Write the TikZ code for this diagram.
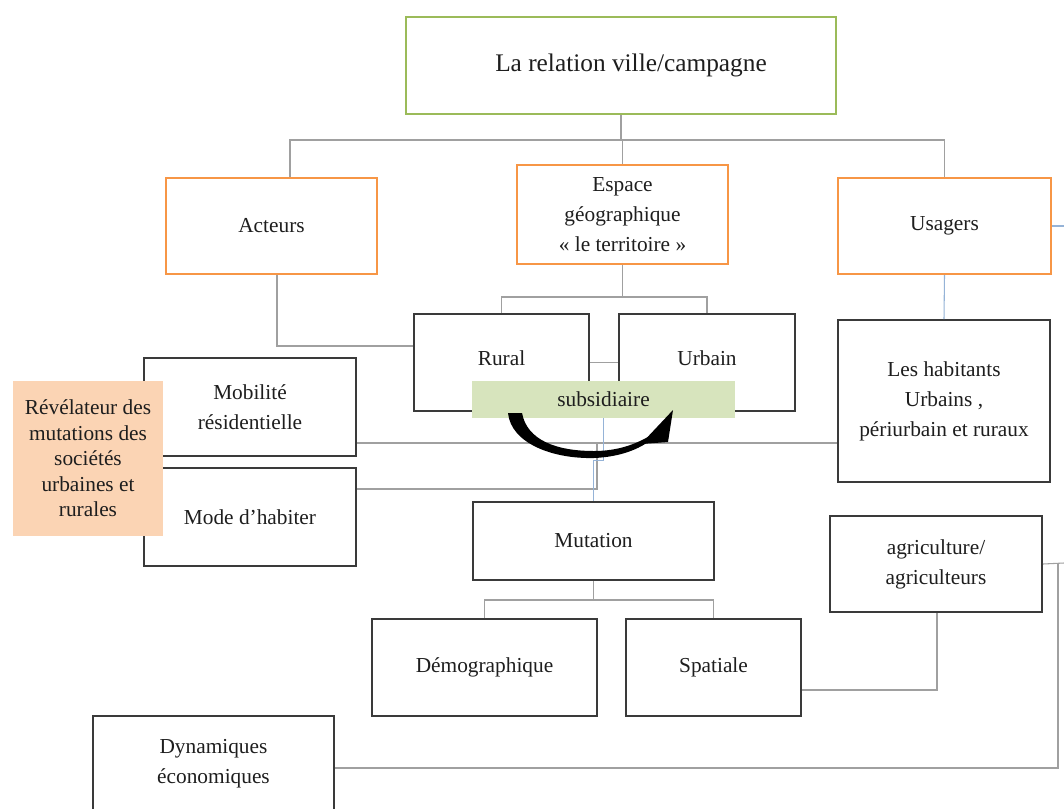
\documentclass[tikz,border=0pt]{standalone}
\usepackage{fontspec}
\setmainfont{Liberation Serif}
\usetikzlibrary{calc}
\definecolor{boxline}{HTML}{3A3A3A}
\definecolor{orangeline}{HTML}{F79646}
\definecolor{greenline}{HTML}{9BBB59}
\definecolor{conngray}{HTML}{A0A0A0}
\definecolor{connblue}{HTML}{95B3D7}
\definecolor{peach}{HTML}{FBD4B4}
\definecolor{subgreen}{HTML}{D7E4BD}
\definecolor{txt}{HTML}{1E1E1E}
\begin{document}
\begin{tikzpicture}[x=0.75pt,y=-0.75pt,
  every node/.style={text=txt, font=\fontsize{16}{22.5}\selectfont, align=center, inner sep=0pt, rectangle},
  blackbox/.style={draw=boxline, line width=1.5pt},
  orangebox/.style={draw=orangeline, line width=1.6pt},
  conn/.style={draw=conngray, line width=0.8pt},
  bconn/.style={draw=connblue, line width=0.8pt},
]
\clip (0,0) rectangle (1064,808);
\fill[white] (0,0) rectangle (1064,808);

% boxes
\node[draw=greenline, line width=1.6pt, minimum width=322.5pt, minimum height=72.75pt, font=\fontsize{19}{23}\selectfont] (title) at (621,65.5) {\hspace*{15pt}La relation ville/campagne};
\node[orangebox, minimum width=158.25pt, minimum height=72pt] (acteurs) at (271.5,226) {Acteurs};
\node[orangebox, minimum width=158.25pt, minimum height=74.25pt] (espace) at (622.5,214.5) {Espace\\géographique\\« le territoire »};
\node[orangebox, minimum width=159.75pt, minimum height=72pt] (usagers) at (944.5,226) {Usagers};
\node[blackbox, minimum width=131.25pt, minimum height=72.75pt, text depth=7pt] (rural) at (501.5,362.5) {Rural};
\node[blackbox, minimum width=132pt, minimum height=72.75pt, text depth=7pt] (urbain) at (707,362.5) {Urbain};
\node[blackbox, minimum width=159pt, minimum height=121.5pt] (habitants) at (944,401) {Les habitants\\Urbains ,\\périurbain et ruraux};
\node[blackbox, minimum width=159pt, minimum height=73.5pt] (mobilite) at (250,407) {Mobilité\\résidentielle};
\node[blackbox, minimum width=159pt, minimum height=73.5pt] (mode) at (250,517) {Mode d’habiter};
\node[blackbox, minimum width=180.75pt, minimum height=58.5pt] (mutation) at (593.5,541) {Mutation};
\node[blackbox, minimum width=159pt, minimum height=72pt] (agri) at (936,564) {agriculture/\\agriculteurs};
\node[blackbox, minimum width=168.75pt, minimum height=72.75pt] (demo) at (484.5,667.5) {Démographique};
\node[blackbox, minimum width=131.25pt, minimum height=72.75pt] (spatiale) at (713.5,667.5) {Spatiale};
\node[blackbox, minimum width=180.75pt, minimum height=72pt] (dyn) at (213.5,764) {Dynamiques\\économiques};

% connectors
\coordinate (b1) at (621,140);
\draw[conn] (title.south) -- (b1);
\draw[conn] ($(acteurs.north)+(18.5,0)$) |- (b1) -| (usagers.north);
\draw[conn] (espace.north) -- (espace.north |- b1);
\coordinate (b2) at (622.5,297);
\draw[conn] (espace.south) -- (b2);
\draw[conn] (rural.north) |- (b2) -| (urbain.north);
\draw[conn] (rural.east) -- (urbain.west);
\draw[conn] ($(acteurs.south)+(5.5,0)$) |- ($(rural.west)+(0,-16.5)$);
\draw[bconn] (usagers.south) -- (habitants.north);
\coordinate (edge1) at (1064,226);
\draw[bconn] (usagers.east) -- (edge1);
\coordinate (m1) at ($(mobilite.east)+(0,36)$);
\draw[conn] (m1) -- (m1 -| habitants.west);
\coordinate (j3) at (597,443);
\draw[conn] ($(mode.east)+(0,-28)$) -| (j3);
\coordinate (b3) at (593.5,600);
\draw[conn] (mutation.south) -- (b3);
\draw[conn] (demo.north) |- (b3) -| (spatiale.north);
\draw[conn] ($(agri.south)+(1,0)$) |- ($(spatiale.east)+(0,22.5)$);
\coordinate (edge2) at (1064,563);
\coordinate (j4) at (1058,563);
\draw[conn] (agri.east) -- (edge2);
\draw[conn] (j4) |- ($(dyn.east)+(0,4)$);

% filled boxes on top
\node[fill=peach, minimum width=112.5pt, minimum height=116.25pt, font=\fontsize{16}{19.1}\selectfont] (revel) at (88,458.5) {Révélateur des\\mutations des\\sociétés\\urbaines et\\rurales};
\node[fill=subgreen, minimum width=197.25pt, minimum height=27.75pt] (subsid) at (603.5,399.5) {subsidiaire};
\draw[bconn] (subsid.south) -- ++(0,42) -| (mutation.north);

% curved arrow
\fill[black] (508,413) .. controls (511,443) and (552,459) .. (594,458)
  .. controls (620,457) and (640,449) .. (652,439) -- (656,432)
  .. controls (638,444) and (618,451) .. (594,451)
  .. controls (556,451) and (527,440) .. (522,413) -- cycle;
\fill[black] (641,444) -- (673,410) -- (668,442) -- cycle;
\end{tikzpicture}
\end{document}
